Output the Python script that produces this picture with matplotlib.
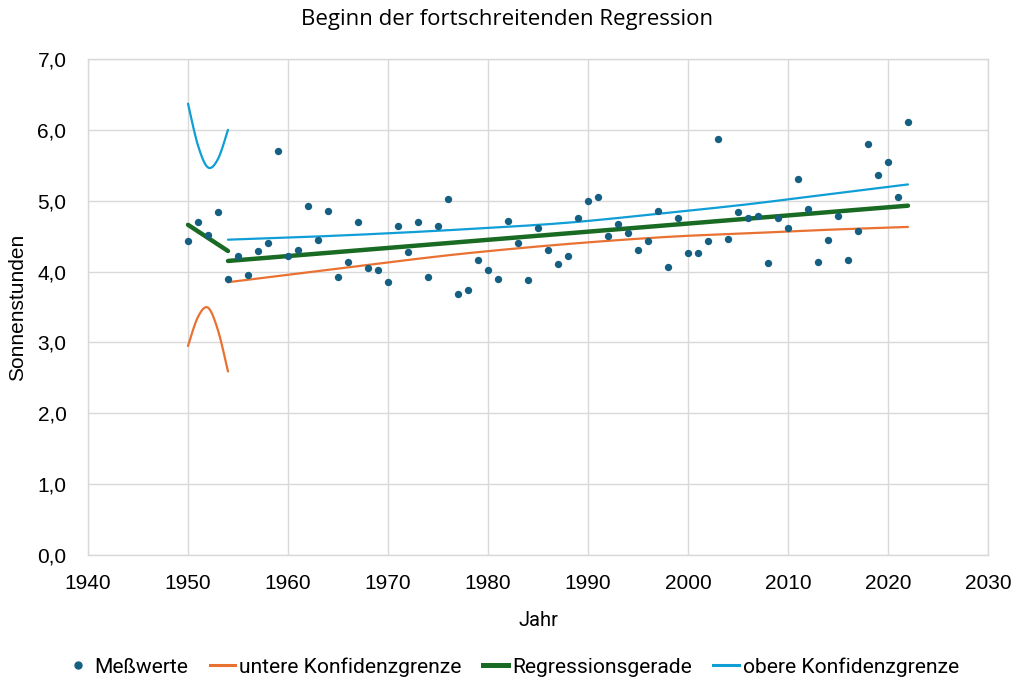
import numpy as np
import matplotlib
matplotlib.use("Agg")
import matplotlib.pyplot as plt
from matplotlib.lines import Line2D

# ---- data ----
years = list(range(1950, 2023))
values = [4.43, 4.70, 4.51, 4.84, 3.90, 4.22, 3.95, 4.29, 4.41, 5.70,
          4.22, 4.30, 4.93, 4.44, 4.85, 3.93, 4.13, 4.70, 4.05, 4.02,
          3.85, 4.65, 4.27, 4.70, 3.92, 4.65, 5.03, 3.69, 3.74, 4.17,
          4.02, 3.89, 4.72, 4.40, 3.88, 4.61, 4.30, 4.10, 4.22, 4.75,
          4.99, 5.05, 4.50, 4.67, 4.55, 4.31, 4.43, 4.85, 4.06, 4.75,
          4.26, 4.26, 4.43, 5.87, 4.46, 4.84, 4.75, 4.78, 4.12, 4.75,
          4.62, 5.30, 4.89, 4.13, 4.44, 4.79, 4.17, 4.57, 5.80, 5.36,
          5.54, 5.05, 6.11]

# first regression phase (1950-1954)
band1_years = [1950, 1951, 1952, 1953, 1954]
lower1 = [2.95, 3.36, 3.49, 3.17, 2.59]
upper1 = [6.37, 5.78, 5.47, 5.59, 6.00]
reg1_years = [1950, 1954]
reg1 = [4.66, 4.29]

# second regression phase (1954-2022)
band2_years = [1954, 1962, 1970, 1978, 1988, 1998, 2006, 2014, 2022]
lower2 = [3.85, 3.99, 4.13, 4.26, 4.39, 4.49, 4.54, 4.59, 4.63]
upper2 = [4.45, 4.49, 4.54, 4.60, 4.69, 4.83, 4.95, 5.09, 5.23]
reg2_years = [1954, 2022]
reg2 = [4.15, 4.93]

x_ticks = [1940, 1950, 1960, 1970, 1980, 1990, 2000, 2010, 2020, 2030]
y_ticks = [0, 1, 2, 3, 4, 5, 6, 7]

title = "Beginn der fortschreitenden Regression"
x_label = "Jahr"
y_label = "Sonnenstunden"
labels = ["Meßwerte", "untere Konfidenzgrenze", "Regressionsgerade", "obere Konfidenzgrenze"]

# ---- style ----
c_pts = "#156082"
c_low = "#E97132"
c_reg = "#196B24"
c_up = "#0F9ED5"
grid_c = "#D9D9D9"

plt.rcParams["font.family"] = ["Roboto", "DejaVu Sans"]
tick_font = ["Liberation Sans", "DejaVu Sans"]


def smooth(xs, ys, n=30):
    """Excel-like smoothed line (Catmull-Rom / Bezier) for rendering."""
    xs = np.asarray(xs, float)
    ys = np.asarray(ys, float)
    P = np.column_stack([xs, ys])
    out = [P[0]]
    for i in range(len(P) - 1):
        p0 = P[i - 1] if i > 0 else P[i]
        p1 = P[i]
        p2 = P[i + 1]
        p3 = P[i + 2] if i + 2 < len(P) else P[i + 1]
        c1 = p1 + (p2 - p0) / 6.0
        c2 = p2 - (p3 - p1) / 6.0
        t = np.linspace(0, 1, n)[1:, None]
        seg = ((1 - t) ** 3) * p1 + 3 * ((1 - t) ** 2) * t * c1 + 3 * (1 - t) * t ** 2 * c2 + t ** 3 * p2
        out.extend(seg)
    out = np.array(out)
    return out[:, 0], out[:, 1]


fig = plt.figure(figsize=(10.23, 6.9), dpi=100)
ax = fig.add_axes([88 / 1023, 1 - 555 / 690, 900 / 1023, 496 / 690])

ax.set_xlim(1940, 2030)
ax.set_ylim(0, 7)
ax.set_xticks(x_ticks)
ax.set_yticks(y_ticks)
ax.set_yticklabels([f"{v:.1f}".replace(".", ",") for v in y_ticks])
ax.tick_params(length=0, labelsize=15, colors="#000000")
ax.tick_params(axis="x", pad=13.5)
ax.tick_params(axis="y", pad=15.5)
for lab in ax.get_xticklabels() + ax.get_yticklabels():
    lab.set_family(tick_font)
ax.grid(True, color=grid_c, linewidth=1)
ax.set_axisbelow(True)
for s in ax.spines.values():
    s.set_color(grid_c)
    s.set_linewidth(1)

# bands and regression
x, y = smooth(band1_years, lower1)
ax.plot(x, y, color=c_low, lw=1.6, solid_capstyle="round")
x, y = smooth(band2_years, lower2)
ax.plot(x, y, color=c_low, lw=1.6, solid_capstyle="round")
ax.plot(reg1_years, reg1, color=c_reg, lw=3.2, solid_capstyle="round")
ax.plot(reg2_years, reg2, color=c_reg, lw=3.2, solid_capstyle="round")
x, y = smooth(band1_years, upper1)
ax.plot(x, y, color=c_up, lw=1.6, solid_capstyle="round")
x, y = smooth(band2_years, upper2)
ax.plot(x, y, color=c_up, lw=1.6, solid_capstyle="round")

ax.scatter(years, values, s=28, color=c_pts, zorder=5, linewidths=0)

fig.text(507 / 1023, 1 - 20 / 690, title, fontsize=16, ha="center", va="center",
         family=["Open Sans", "DejaVu Sans"])
ax.set_xlabel(x_label, fontsize=14.5)
ax.xaxis.label.set_va("center")
ax.xaxis.set_label_coords(0.5, -65 / 496)
ax.set_ylabel(y_label, fontsize=15, family=tick_font)
ax.yaxis.label.set_va("center")
ax.yaxis.set_label_coords(-70 / 900, 0.5)

handles = [
    Line2D([], [], ls="none", marker="o", ms=5, color=c_pts),
    Line2D([], [], color=c_low, lw=2.2),
    Line2D([], [], color=c_reg, lw=3.6),
    Line2D([], [], color=c_up, lw=2.2),
]
fig.legend(handles, labels, loc="center", bbox_to_anchor=(512 / 1023, 1 - 667 / 690),
           ncol=4, frameon=False, fontsize=15.1, handlelength=1.22, handletextpad=0.2,
           columnspacing=1.0, borderpad=0, borderaxespad=0)

fig.savefig("out.png", dpi=100, facecolor="white")
